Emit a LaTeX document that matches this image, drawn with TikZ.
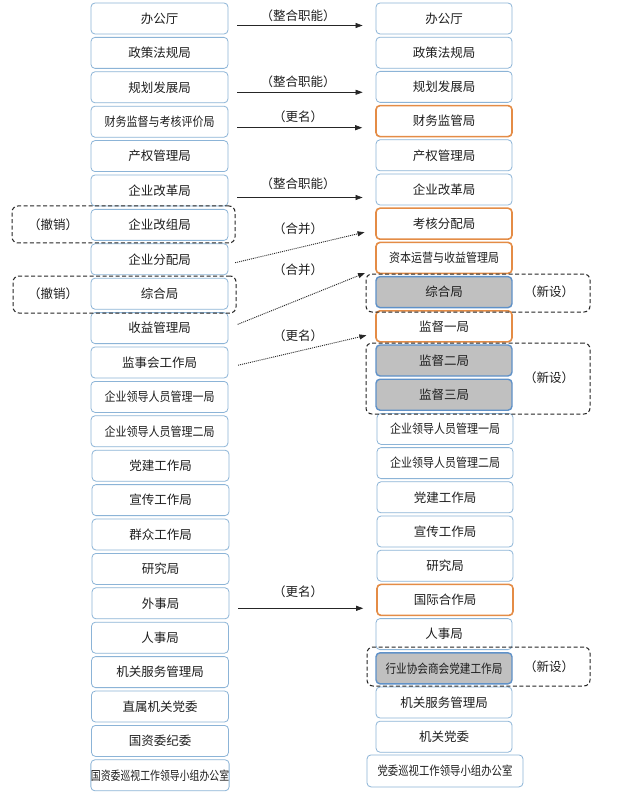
\documentclass[tikz,border=0pt]{standalone}
\usepackage{fontspec}
\setmainfont{Noto Sans CJK SC}
\usetikzlibrary{arrows.meta,fit}
\definecolor{bx}{RGB}{140,180,215}
\definecolor{org}{RGB}{228,140,70}
\definecolor{nb}{RGB}{95,145,200}
\definecolor{gbx}{RGB}{192,192,192}
\definecolor{txt}{RGB}{30,30,30}
\newcommand{\sq}[1]{\scalebox{0.88}[1]{#1}}
\tikzset{
 box/.style={draw=bx, line width=0.8pt, rounded corners=4pt, minimum width=137pt, minimum height=31pt, inner sep=0pt, font=\fontsize{12.5}{14}\selectfont, text=txt, fill=white},
 rbox/.style={box, minimum width=136pt},
 chg/.style={rbox, draw=org, line width=1.6pt},
 newb/.style={rbox, draw=nb, fill=gbx, line width=1.4pt},
 arr/.style={-{Triangle[length=7pt,width=5pt]}, line width=0.7pt, draw=black!85, shorten <=9pt, shorten >=13pt},
 darr/.style={arr, dash pattern=on 1pt off 1pt, line width=0.9pt},
 grp/.style={draw=black!85, dash pattern=on 4pt off 2.5pt, line width=1pt, rounded corners=6pt, inner sep=0pt},
 lab/.style={font=\fontsize{12.5}{14}\selectfont, text=txt, inner sep=0pt}
}
\begin{document}
\begin{tikzpicture}[x=1pt,y=-1pt]
\useasboundingbox[fill=white] (0,0) rectangle (632,799);
% left column
\node[box] (L0) at (159.5,{18.5+34.4*0}) {办公厅};
\node[box] (L1) at (159.5,{18.5+34.4*1}) {政策法规局};
\node[box] (L2) at (159.5,{18.5+34.4*2}) {规划发展局};
\node[box] (L3) at (159.5,{18.5+34.4*3}) {\sq{财务监督与考核评价局}};
\node[box] (L4) at (159.5,{18.5+34.4*4}) {产权管理局};
\node[box] (L5) at (159.5,{18.5+34.4*5}) {企业改革局};
\node[box] (L6) at (159.5,{18.5+34.4*6}) {企业改组局};
\node[box] (L7) at (159.5,{18.5+34.4*7}) {企业分配局};
\node[box] (L8) at (159.5,{18.5+34.4*8}) {综合局};
\node[box] (L9) at (159.5,{18.5+34.4*9}) {收益管理局};
\node[box] (L10) at (159.5,{18.5+34.4*10}) {监事会工作局};
\node[box] (L11) at (159.5,{18.5+34.4*11}) {\sq{企业领导人员管理一局}};
\node[box] (L12) at (159.5,{18.5+34.4*12}) {\sq{企业领导人员管理二局}};
\node[box] (L13) at (160.5,{18.5+34.4*13}) {党建工作局};
\node[box] (L14) at (160.5,{18.5+34.4*14}) {宣传工作局};
\node[box] (L15) at (160.5,{18.5+34.4*15}) {群众工作局};
\node[box] (L16) at (160.5,{18.5+34.4*16}) {研究局};
\node[box] (L17) at (160.5,{18.5+34.4*17}) {外事局};
\node[box] (L18) at (160,{18.5+34.4*18}) {人事局};
\node[box] (L19) at (160,{18.5+34.4*19}) {机关服务管理局};
\node[box] (L20) at (160,{18.5+34.4*20}) {直属机关党委};
\node[box] (L21) at (160,{18.5+34.4*21}) {国资委纪委};
\node[box] (L22) at (160,{18.5+34.4*22}) {\scalebox{0.79}[1]{国资委巡视工作领导小组办公室}};
% right column
\node[rbox] (R0) at (444,{18.5+34.2*0}) {办公厅};
\node[rbox] (R1) at (444,{18.5+34.2*1}) {政策法规局};
\node[rbox] (R2) at (444,{18.5+34.2*2}) {规划发展局};
\node[chg] (R3) at (444,{18.5+34.2*3}) {财务监管局};
\node[rbox] (R4) at (444,{18.5+34.2*4}) {产权管理局};
\node[rbox] (R5) at (444,{18.5+34.2*5}) {企业改革局};
\node[chg] (R6) at (444,{18.5+34.2*6}) {考核分配局};
\node[chg] (R7) at (444,{18.5+34.2*7}) {\sq{资本运营与收益管理局}};
\node[newb] (R8) at (444,{18.5+34.2*8}) {综合局};
\node[chg] (R9) at (444,{18.5+34.2*9}) {监督一局};
\node[newb] (R10) at (444,{18.5+34.2*10}) {监督二局};
\node[newb] (R11) at (444,{18.5+34.2*11}) {监督三局};
\node[rbox] (R12) at (445,{18.5+34.2*12}) {\sq{企业领导人员管理一局}};
\node[rbox] (R13) at (445,{18.5+34.2*13}) {\sq{企业领导人员管理二局}};
\node[rbox] (R14) at (445,{18.5+34.2*14}) {党建工作局};
\node[rbox] (R15) at (445,{18.5+34.2*15}) {宣传工作局};
\node[rbox] (R16) at (445,{18.5+34.2*16}) {研究局};
\node[chg] (R17) at (445,{18.5+34.2*17}) {国际合作局};
\node[rbox] (R18) at (444,{18.5+34.2*18}) {人事局};
\node[newb] (R19) at (444,{18.5+34.2*19}) {\scalebox{0.85}[1]{行业协会商会党建工作局}};
\node[rbox] (R20) at (444,{18.5+34.2*20}) {机关服务管理局};
\node[rbox] (R21) at (444,{18.5+34.2*21}) {机关党委};
\node[rbox, minimum width=156pt, minimum height=32pt] (R22) at (445,{18.5+34.2*22}) {\scalebox{0.83}[1]{党委巡视工作领导小组办公室}};
% dashed groups
\node[grp, fit={(12,206) (235,243)}] (G1) {};
\node[grp, fit={(13,276) (236,313)}] (G2) {};
\node[grp, fit={(366,274) (590,312)}] (G3) {};
\node[grp, fit={(366,343) (590,414)}] (G4) {};
\node[grp, fit={(367,647) (590,686)}] (G5) {};
\node[lab] (S1) at (53,225) {（撤销）};
\node[lab] (S2) at (53,294) {（撤销）};
\node[lab] (N1) at (549,292) {（新设）};
\node[lab] (N2) at (549,378) {（新设）};
\node[lab] (N3) at (549,667) {（新设）};
% solid arrows
\coordinate (a0) at ([yshift=-7pt]L0.east);
\coordinate (a2) at ([yshift=-5pt]L2.east);
\coordinate (a3) at ([yshift=-6pt]L3.east);
\coordinate (a5) at ([yshift=-7pt]L5.east);
\coordinate (a17) at ([yshift=-5pt]L17.east);
\draw[arr] (a0) -- (a0 -| R0.west);
\draw[arr] (a2) -- (a2 -| R2.west);
\draw[arr] (a3) -- (a3 -| R3.west);
\draw[arr] (a5) -- (a5 -| R5.west);
\draw[arr] (a17) -- (a17 -| R17.west);
\node[lab] (T0) at (298,16) {（整合职能）};
\node[lab] (T2) at (298,82) {（整合职能）};
\node[lab] (T3) at (298,117) {（更名）};
\node[lab] (T5) at (298,184) {（整合职能）};
\node[lab] (T17) at (298,592) {（更名）};
% dotted arrows
\draw[darr, shorten <=7pt, shorten >=11pt] ([yshift=-5pt]L7.east) -- ([yshift=-6pt]R6.west);
\draw[darr, shorten <=10pt, shorten >=11pt] ([yshift=0pt]L9.east) -- ([yshift=-11pt]R7.west);
\draw[darr, shorten <=10pt, shorten >=9pt] ([yshift=-5pt]L10.east) -- ([yshift=-7pt]R9.west);
\node[lab] (T6) at (298,229) {（合并）};
\node[lab] (T7) at (298,270) {（合并）};
\node[lab] (T9) at (298,336) {（更名）};
\end{tikzpicture}
\end{document}
